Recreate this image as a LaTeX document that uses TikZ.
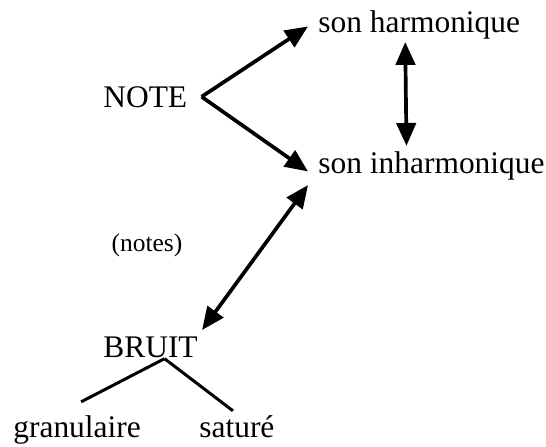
\documentclass[tikz,border=0pt]{standalone}
\usepackage{fontspec}
\setmainfont{Liberation Serif}
\usetikzlibrary{arrows.meta,positioning,calc}

\tikzset{
  lbl/.style={inner sep=0pt, anchor=base west, font=\fontsize{17.9}{20}\selectfont},
  fleche/.style={line width=2.1pt, -{Triangle[length=13pt,width=11pt]}},
  double fleche/.style={line width=2.1pt, {Triangle[length=13pt,width=11pt]}-{Triangle[length=13pt,width=11pt]}},
  branche/.style={line width=1.7pt}
}

\begin{document}
\begin{tikzpicture}[x=0.02cm, y=-0.02cm]
        \useasboundingbox (0,0) rectangle (546,446);
        \node[lbl] (harm) at (318,33) {son harmonique};
        \node[lbl] (inharm) at (318,173) {son inharmonique};
        \node[lbl] (note) at (103,107) {NOTE};
        \node[lbl] (bruit) at (103,357) {BRUIT};
        \node[inner sep=0pt, font=\fontsize{14.5}{16}\selectfont] (notes) at (147,245) {(notes)};
        \node[lbl] (gran) at (13,437) {granulaire};
        \node[lbl] (sature) at (199,437) {saturé};
        % fleches de NOTE
        \draw[fleche] ([xshift=8]note.east) -- ([shift={(-10,1)}]harm.west);
        \draw[fleche] ([xshift=8]note.east) -- ([shift={(-10,6)}]inharm.west);
        \draw[double fleche] ([shift={(-14,2)}]harm.south) -- ([shift={(-25,-5)}]inharm.north);
        \draw[double fleche] ([shift={(-10,5)}]inharm.south west) -- ([shift={(4,-6)}]bruit.north east);
        % branches de BRUIT
        \draw[branche] ([shift={(14,1)}]bruit.south) -- ([shift={(4,-13)}]gran.north);
        \draw[branche] ([shift={(14,1)}]bruit.south) -- ([shift={(-4,-4)}]sature.north);
    \end{tikzpicture}
\end{document}
